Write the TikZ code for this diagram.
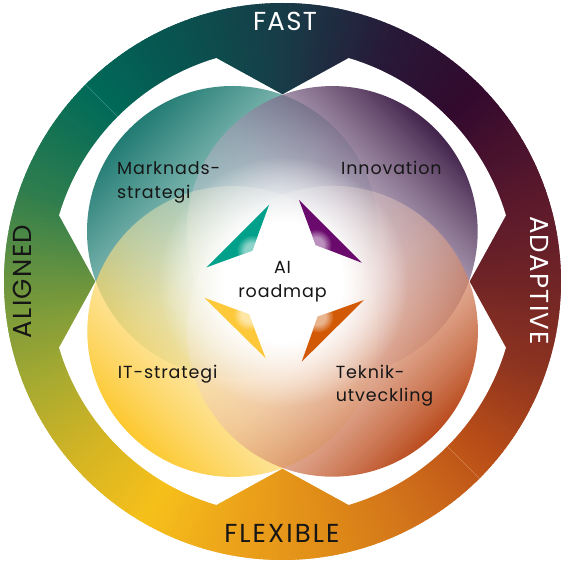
\documentclass[tikz,border=0pt]{standalone}
\usepackage{fontspec}
\setmainfont{Poppins}
\newfontfamily\labfont[LetterSpace=5]{Poppins}
\newfontfamily\ringfont[LetterSpace=5]{Poppins}
\newfontfamily\flexfont[LetterSpace=8]{Poppins}
\usetikzlibrary{fadings}
\pgfdeclareradialshading{glowshade}{\pgfpointorigin}{color(0bp)=(white); color(12bp)=(white); color(25bp)=(black); color(50bp)=(black)}
\pgfdeclarefading{glow}{\pgfuseshading{glowshade}}
\tikzfading[name=fadefront, top color=transparent!8, bottom color=transparent!85]
% ring colour stops
\definecolor{r0}{RGB}{112,36,38}
\definecolor{r20}{RGB}{88,24,44}
\definecolor{r45}{RGB}{50,10,46}
\definecolor{r65}{RGB}{40,24,56}
\definecolor{r90}{RGB}{24,60,72}
\definecolor{r115}{RGB}{8,84,80}
\definecolor{r135}{RGB}{0,106,88}
\definecolor{r160}{RGB}{46,125,78}
\definecolor{r180}{RGB}{106,148,62}
\definecolor{r200}{RGB}{160,168,50}
\definecolor{r220}{RGB}{210,180,36}
\definecolor{r240}{RGB}{246,192,26}
\definecolor{r260}{RGB}{236,162,26}
\definecolor{r280}{RGB}{224,140,24}
\definecolor{r300}{RGB}{208,112,26}
\definecolor{r320}{RGB}{186,78,24}
\definecolor{r340}{RGB}{142,52,32}
% circles: dark edge and mid tint
\definecolor{cTeal}{RGB}{10,110,100}
\definecolor{mTeal}{RGB}{176,214,210}
\definecolor{cPurple}{RGB}{50,16,60}
\definecolor{mPurple}{RGB}{176,156,184}
\definecolor{cYellow}{RGB}{253,196,30}
\definecolor{mYellow}{RGB}{253,230,160}
\definecolor{cOrange}{RGB}{180,60,10}
\definecolor{mOrange}{RGB}{232,180,156}
% darts
\definecolor{dTeal}{RGB}{0,160,138}
\definecolor{dPurple}{RGB}{106,10,108}
\definecolor{dYellow}{RGB}{253,200,58}
\definecolor{dOrange}{RGB}{210,90,6}
\definecolor{txt}{RGB}{22,22,22}
\begin{document}
\begin{tikzpicture}[x=1pt,y=1pt,
  vennback/.style={opacity=0.9},
  lab/.style={font=\labfont\fontsize{17.5}{20}\selectfont, text=txt, inner sep=0pt},
  ringlab/.style={font=\ringfont\fontsize{26}{30}\selectfont, inner sep=0pt},
  seam/.style={white, opacity=0.25, line width=0.6pt},
  shine/.style={white, path fading=glow, fill opacity=0.55}]
\useasboundingbox (-282.5,-287.5) rectangle (280.5,281.5);
\fill[white] (-282.5,-287.5) rectangle (280.5,281.5);
% conic ring gradient
\foreach \a/\b/\ca/\cb in {0/20/r0/r20,20/45/r20/r45,45/65/r45/r65,65/90/r65/r90,90/115/r90/r115,115/135/r115/r135,135/160/r135/r160,160/180/r160/r180,180/200/r180/r200,200/220/r200/r220,220/240/r220/r240,240/260/r240/r260,260/280/r260/r280,280/300/r280/r300,300/320/r300/r320,320/340/r320/r340,340/360/r340/r0}{
  \pgfmathtruncatemacro\n{\b-\a}
  \foreach \i in {1,...,\n}{
    \pgfmathsetmacro\p{100*(\i-0.5)/\n}
    \pgfmathsetmacro\s{\a+\i-1}
    \colorlet{wc}{\cb!\p!\ca}
    \fill[wc] (0,0) -- (\s:278.5) arc[start angle=\s, end angle=\s+1.8, radius=278.5] -- cycle;
  }
}
% inner white region with four notches
\fill[white] (73.5:233) -- (90:187) -- (106.5:233)
  arc[start angle=106.5, end angle=163.5, radius=233] -- (180:187) -- (196.5:233)
  arc[start angle=196.5, end angle=253.5, radius=233] -- (270:187) -- (286.5:233)
  arc[start angle=286.5, end angle=343.5, radius=233] -- (0:187) -- (16.5:233)
  arc[start angle=16.5, end angle=73.5, radius=233] -- cycle;
% seams in the ring
\draw[seam] (135:233) -- (135:278);
\draw[seam] (315:233) -- (315:278);
% four circles
\shade[vennback, top color=cTeal, bottom color=white, middle color=mTeal, shading angle=45] (-50,50) circle (145.5);
\shade[top color=cPurple, bottom color=white, middle color=mPurple, shading angle=-45, path fading=fadefront, fading angle=-45] (50,50) circle (145.5);
\shade[top color=cYellow, bottom color=white, middle color=mYellow, shading angle=135, path fading=fadefront, fading angle=135] (-50,-50) circle (145.5);
\shade[top color=cOrange, bottom color=white, middle color=mOrange, shading angle=-135, path fading=fadefront, fading angle=-135] (50,-50) circle (145.5);
% central glow
\fill[white, path fading=glow] (0.5,-0.5) circle (125);
% darts
\coordinate (t1) at (-13.5,76.5); \coordinate (t2) at (-30.2,30.8); \coordinate (t3) at (-75.8,14.2);
\coordinate (p1) at (16.5,81.5); \coordinate (p2) at (33.2,36.5); \coordinate (p3) at (79.2,18.8);
\coordinate (y1) at (-78.2,-16.2); \coordinate (y2) at (-33.5,-32.8); \coordinate (y3) at (-16.8,-76.8);
\coordinate (o1) at (81.5,-18.5); \coordinate (o2) at (35.2,-35.2); \coordinate (o3) at (19.2,-80.2);
\fill[dTeal] (t1) -- (t2) -- (t3) -- cycle;
\fill[dPurple] (p1) -- (p2) -- (p3) -- cycle;
\fill[dYellow] (y1) -- (y2) -- (y3) -- cycle;
\fill[dOrange] (o1) -- (o2) -- (o3) -- cycle;
\begin{scope}\clip (t1) -- (t2) -- (t3) -- cycle; \fill[shine] (t2) circle (16); \end{scope}
\begin{scope}\clip (p1) -- (p2) -- (p3) -- cycle; \fill[shine] (p2) circle (16); \end{scope}
\begin{scope}\clip (y1) -- (y2) -- (y3) -- cycle; \fill[shine] (y2) circle (16); \end{scope}
\begin{scope}\clip (o1) -- (o2) -- (o3) -- cycle; \fill[shine] (o2) circle (16); \end{scope}
% labels
\node[lab, anchor=base west] (mk1) at (-165.5,106.5) {Marknads-};
\node[lab, anchor=base west] (mk2) at (-165.5,83.2) {strategi};
\node[lab, anchor=base west] (inn) at (58.5,106.5) {Innovation};
\node[lab, anchor=base west] (its) at (-164.7,-96.5) {IT-strategi};
\node[lab, anchor=base west] (tk1) at (53.2,-96.5) {Teknik-};
\node[lab, anchor=base west] (tk2) at (53.2,-119.9) {utveckling};
\node[lab, anchor=base] (ai1) at (0,7.9) {AI};
\node[lab, anchor=base] (ai2) at (0,-15.8) {roadmap};
\node[ringlab, text=white, anchor=base] (fast) at (2.5,250.5) {FAST};
\node[ringlab, font=\flexfont\fontsize{26}{30}\selectfont, text=txt, anchor=base] (flex) at (-0.6,-260.5) {FLEXIBLE};
\node[ringlab, text=txt, anchor=base, rotate=90] (alig) at (-250.9,0) {ALIGNED};
\node[ringlab, text=white, anchor=base, rotate=-90] (adap) at (248.2,0.9) {ADAPTIVE};
\end{tikzpicture}
\end{document}
